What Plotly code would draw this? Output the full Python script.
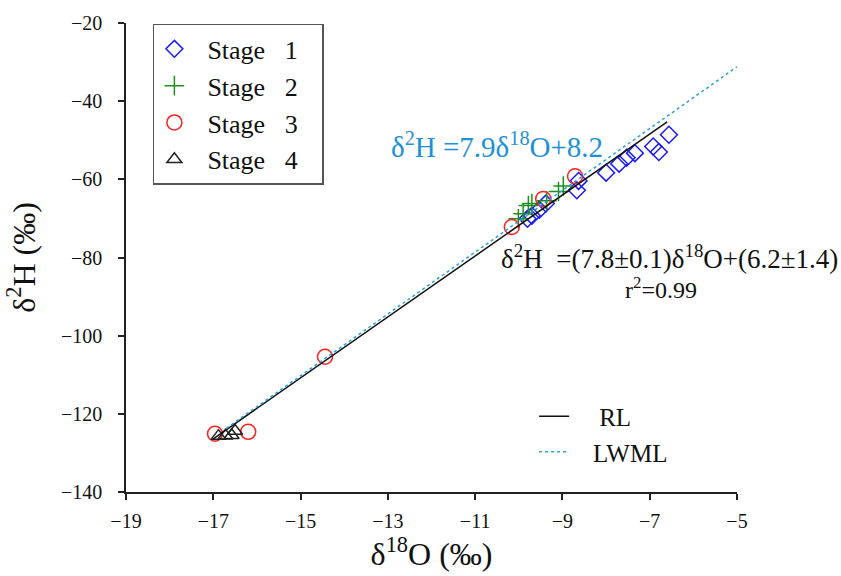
import plotly.graph_objects as go

# ---- data ----
stage1_x = [-6.56, -6.92, -6.79, -7.34, -7.53, -7.70, -8.00, -8.63, -8.67, -9.38, -9.53, -9.70, -9.80]
stage1_y = [-48.6, -51.6, -53.0, -53.3, -54.5, -56.0, -58.3, -60.4, -62.8, -66.2, -67.8, -69.3, -70.1]

stage2_x = [-10.01, -9.90, -9.78, -9.70, -9.36, -9.09, -8.98]
stage2_y = [-70.1, -68.8, -66.7, -66.2, -65.5, -63.1, -61.7]

stage3_x = [-16.96, -16.20, -14.44, -10.16, -9.44, -8.71]
stage3_y = [-125.1, -124.6, -105.4, -72.2, -65.0, -59.2]

stage4_x = [-16.88, -16.72, -16.58, -16.50]
stage4_y = [-125.7, -125.6, -125.5, -124.4]

rl_x = [-17.0, -6.6]
rl_y = [-126.4, -45.3]

lwml_x = [-16.7, -5.0]
lwml_y = [-123.7, -31.2]

x_ticks = [-19, -17, -15, -13, -11, -9, -7, -5]
y_ticks = [-140, -120, -100, -80, -60, -40, -20]

stage_names = ["Stage 1", "Stage 2", "Stage 3", "Stage 4"]
line_names = ["RL", "LWML"]

FONT = "Liberation Serif, Times New Roman, serif"
NB = "\u00a0"


def pad_stage(name):
    word, num = name.split(" ")
    return NB + NB + word + NB * 3 + num + NB * 3


fig = go.Figure()

fig.add_trace(go.Scatter(x=stage1_x, y=stage1_y, mode="markers", name=pad_stage(stage_names[0]),
                         marker=dict(symbol="diamond-open", size=13, color="#1a1aff",
                                     line=dict(width=1.5, color="#1a1aff"))))
fig.add_trace(go.Scatter(x=stage2_x, y=stage2_y, mode="markers", name=pad_stage(stage_names[1]),
                         marker=dict(symbol="cross-thin-open", size=14, color="#1f8f1f",
                                     line=dict(width=1.5, color="#1f8f1f"))))
fig.add_trace(go.Scatter(x=stage3_x, y=stage3_y, mode="markers", name=pad_stage(stage_names[2]),
                         marker=dict(symbol="circle-open", size=15, color="#ff2020",
                                     line=dict(width=1.5, color="#ff2020"))))
fig.add_trace(go.Scatter(x=stage4_x, y=stage4_y, mode="markers", name=pad_stage(stage_names[3]),
                         marker=dict(symbol="triangle-up-open", size=13, color="#222222",
                                     line=dict(width=1.5, color="#222222"))))

fig.add_trace(go.Scatter(x=rl_x, y=rl_y, mode="lines", name=NB * 4 + line_names[0], legend="legend2",
                         line=dict(color="#111111", width=1.5)))
fig.add_trace(go.Scatter(x=lwml_x, y=lwml_y, mode="lines", name=NB * 3 + line_names[1], legend="legend2",
                         line=dict(color="#2a9fe0", width=1.5, dash="dot")))

fig.update_layout(
    width=841, height=576,
    margin=dict(l=126, r=104, t=20, b=81),
    paper_bgcolor="white", plot_bgcolor="white",
    font=dict(family=FONT, color="#111111", size=18),
    showlegend=True,
    legend=dict(x=0.044, y=0.998, xanchor="left", yanchor="top",
                bordercolor="#555555", borderwidth=1.5, bgcolor="white",
                font=dict(family=FONT, size=26, color="#111111"),
                itemwidth=30, tracegroupgap=6),
    legend2=dict(x=0.668, y=0.21, xanchor="left", yanchor="top",
                 bgcolor="rgba(0,0,0,0)", borderwidth=0,
                 font=dict(family=FONT, size=25, color="#111111"),
                 itemwidth=30),
    xaxis=dict(range=[-19, -5], tickvals=x_ticks, showline=True, linecolor="#222222",
               linewidth=1.5, ticks="outside", ticklen=6, tickwidth=1.5, tickcolor="#222222",
               showgrid=False, zeroline=False, mirror=False,
               tickfont=dict(family=FONT, size=20), ticklabelstandoff=4,
               title=dict(text="δ<sup>18</sup>O (‰)", font=dict(family=FONT, size=32), standoff=10)),
    yaxis=dict(range=[-140, -20], tickvals=y_ticks, showline=True, linecolor="#222222",
               linewidth=1.5, ticks="outside", ticklen=6, tickwidth=1.5, tickcolor="#222222",
               showgrid=False, zeroline=False, mirror=False,
               tickfont=dict(family=FONT, size=20), ticklabelstandoff=12,
               title=dict(text="δ<sup>2</sup>H (‰)", font=dict(family=FONT, size=32), standoff=16)),
)

fig.add_annotation(xref="paper", yref="paper", x=0.607, y=0.74, xanchor="center", yanchor="middle",
                   text="δ<sup>2</sup>H =7.9δ<sup>18</sup>O+8.2", showarrow=False,
                   font=dict(family=FONT, size=29, color="#1e90d8"))
fig.add_annotation(xref="paper", yref="paper", x=0.89, y=0.502, xanchor="center", yanchor="middle",
                   text="δ<sup>2</sup>H  =(7.8±0.1)δ<sup>18</sup>O+(6.2±1.4)", showarrow=False,
                   font=dict(family=FONT, size=27, color="#111111"))
fig.add_annotation(xref="paper", yref="paper", x=0.876, y=0.434, xanchor="center", yanchor="middle",
                   text="r<sup>2</sup>=0.99", showarrow=False,
                   font=dict(family=FONT, size=24, color="#111111"))

fig.write_html("out.html")
